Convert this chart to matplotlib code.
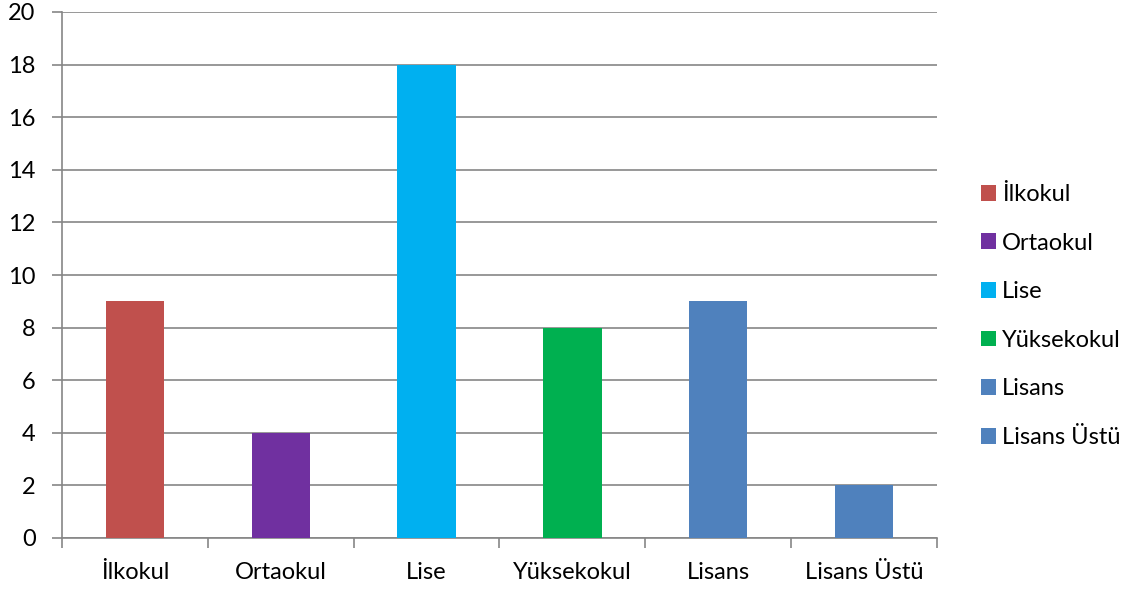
import matplotlib.pyplot as plt
from matplotlib.patches import Patch

categories = ['İlkokul', 'Ortaokul', 'Lise', 'Yüksekokul', 'Lisans', 'Lisans Üstü']
values = [9, 4, 18, 8, 9, 2]
colors = ['#C0504D', '#7030A0', '#00B0F0', '#00B050', '#4F81BD', '#4F81BD']
yticks = list(range(0, 21, 2))

plt.rcParams['font.family'] = ['Lato', 'DejaVu Sans']
dpi = 100
fig = plt.figure(figsize=(1131 / dpi, 592 / dpi), dpi=dpi)
ax = fig.add_axes([62 / 1131, 1 - 538 / 592, (937 - 62) / 1131, (538 - 12) / 592])

grid = '#868686'
x = list(range(len(categories)))
ax.bar(x, values, width=0.40, color=colors, zorder=3)

ax.set_xlim(-0.5, len(categories) - 0.5)
ax.set_ylim(0, 20)
ax.set_yticks(yticks)
ax.set_yticklabels([str(t) for t in yticks], fontsize=17)
ax.yaxis.grid(True, color=grid, linewidth=1.2, zorder=0)

ax.set_xticks([i - 0.5 for i in range(len(categories) + 1)])
ax.set_xticklabels([])
ax.set_xticks(x, minor=True)
ax.set_xticklabels(categories, minor=True, fontsize=17)
ax.tick_params(axis='x', which='minor', length=0, pad=17)
ax.tick_params(axis='x', which='major', length=7, color=grid, width=1.2)
ax.tick_params(axis='y', length=7, color=grid, width=1.2, pad=12)

for s in ['top', 'right']:
    ax.spines[s].set_visible(False)
for s in ['left', 'bottom']:
    ax.spines[s].set_color(grid)
    ax.spines[s].set_linewidth(1.2)

handles = [Patch(facecolor=c) for c in colors]
fig.legend(handles, categories, loc='center left', bbox_to_anchor=(969 / 1131, 1 - 316 / 592),
           frameon=False, fontsize=17, handlelength=0.65, handleheight=0.65,
           handletextpad=0.25, labelspacing=1.17, borderpad=0)

fig.savefig('out.png', dpi=dpi)
